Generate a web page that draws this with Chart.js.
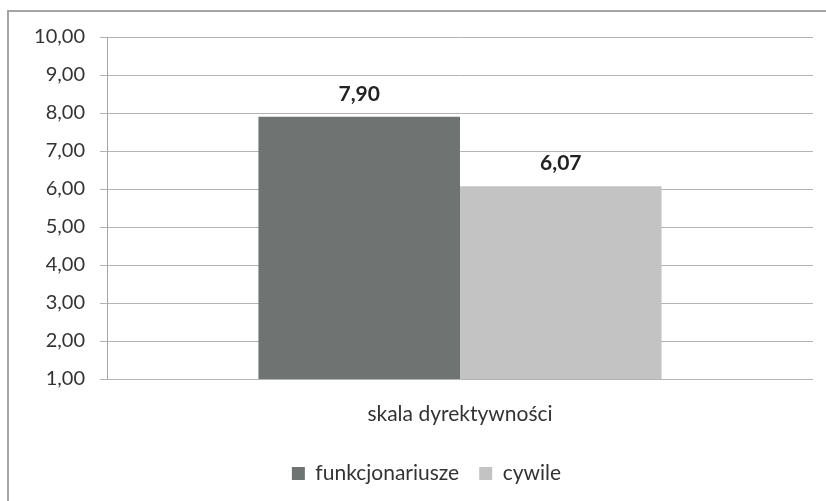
<!DOCTYPE html>
<html>
<head>
<meta charset="utf-8">
<script src="https://cdn.jsdelivr.net/npm/chart.js@4/dist/chart.umd.min.js"></script>
<style>
  html, body { margin: 0; padding: 0; background: #ffffff; }
  #wrap { position: relative; width: 826px; height: 501px; }
</style>
</head>
<body>
<div id="wrap"><canvas id="c"></canvas></div>
<script>
// ---- data ----
const categories = ['skala dyrektywności'];
const seriesNames = ['funkcjonariusze', 'cywile'];
const funkcjonariusze = [7.90];
const cywile = [6.07];
const yTicks = [1, 2, 3, 4, 5, 6, 7, 8, 9, 10];

const colors = ['#6f7372', '#c3c3c3'];
const FONT = 'Lato, "Open Sans", sans-serif';
const fmt = v => Number(v).toFixed(2).replace('.', ',');

const borderPlugin = {
  id: 'frame',
  beforeDraw(chart) {
    const ctx = chart.ctx;
    ctx.save();
    ctx.fillStyle = '#ffffff';
    ctx.fillRect(0, 0, chart.width, chart.height);
    ctx.strokeStyle = '#a6a6a6';
    ctx.lineWidth = 2;
    ctx.strokeRect(8, 11, 1000, 1000);
    ctx.restore();
  },
  afterLayout(chart) {
    // nudge legend to match reference horizontal placement
    if (chart.legend) { chart.legend.left += 5; chart.legend.right += 5; }
  }
};

const labelsPlugin = {
  id: 'valueLabels',
  afterDatasetsDraw(chart) {
    const ctx = chart.ctx;
    ctx.save();
    ctx.font = 'bold 21px ' + FONT;
    ctx.fillStyle = '#222222';
    ctx.textAlign = 'center';
    ctx.textBaseline = 'alphabetic';
    chart.data.datasets.forEach((ds, i) => {
      const meta = chart.getDatasetMeta(i);
      meta.data.forEach((bar, j) => {
        ctx.fillText(fmt(ds.data[j]), bar.x, bar.y - 16);
      });
    });
    ctx.restore();
  }
};

new Chart(document.getElementById('c'), {
  type: 'bar',
  data: {
    labels: categories,
    datasets: [
      { label: seriesNames[0], data: funkcjonariusze, backgroundColor: colors[0], borderWidth: 0 },
      { label: seriesNames[1], data: cywile, backgroundColor: colors[1], borderWidth: 0 }
    ]
  },
  options: {
    responsive: true,
    maintainAspectRatio: false,
    animation: false,
    devicePixelRatio: 1,
    layout: { padding: { left: 30, right: 13, top: 37, bottom: 7 } },
    datasets: { bar: { barPercentage: 1, categoryPercentage: 0.571 } },
    plugins: {
      tooltip: { enabled: false },
      legend: {
        position: 'bottom',
        labels: {
          font: { family: FONT, size: 21 },
          color: '#333333',
          boxWidth: 13,
          boxHeight: 13,
          padding: 20
        }
      }
    },
    scales: {
      x: {
        grid: { display: false, drawTicks: false },
        border: { display: false },
        ticks: { font: { family: FONT, size: 21 }, color: '#333333', padding: 23 },
        afterFit(scale) { scale.height = 64; }
      },
      y: {
        min: 1,
        max: 10,
        afterBuildTicks(scale) { scale.ticks = yTicks.map(v => ({ value: v })); },
        ticks: {
          font: { family: FONT, size: 20 },
          color: '#333333',
          padding: 15,
          callback: v => fmt(v)
        },
        grid: { color: '#b3b3b3', lineWidth: 1, drawTicks: true, tickLength: 7, tickColor: '#b3b3b3' },
        border: { display: true, color: '#a6a6a6', width: 1 },
        afterFit(scale) { scale.width = 77; }
      }
    }
  },
  plugins: [borderPlugin, labelsPlugin]
});
</script>
</body>
</html>
